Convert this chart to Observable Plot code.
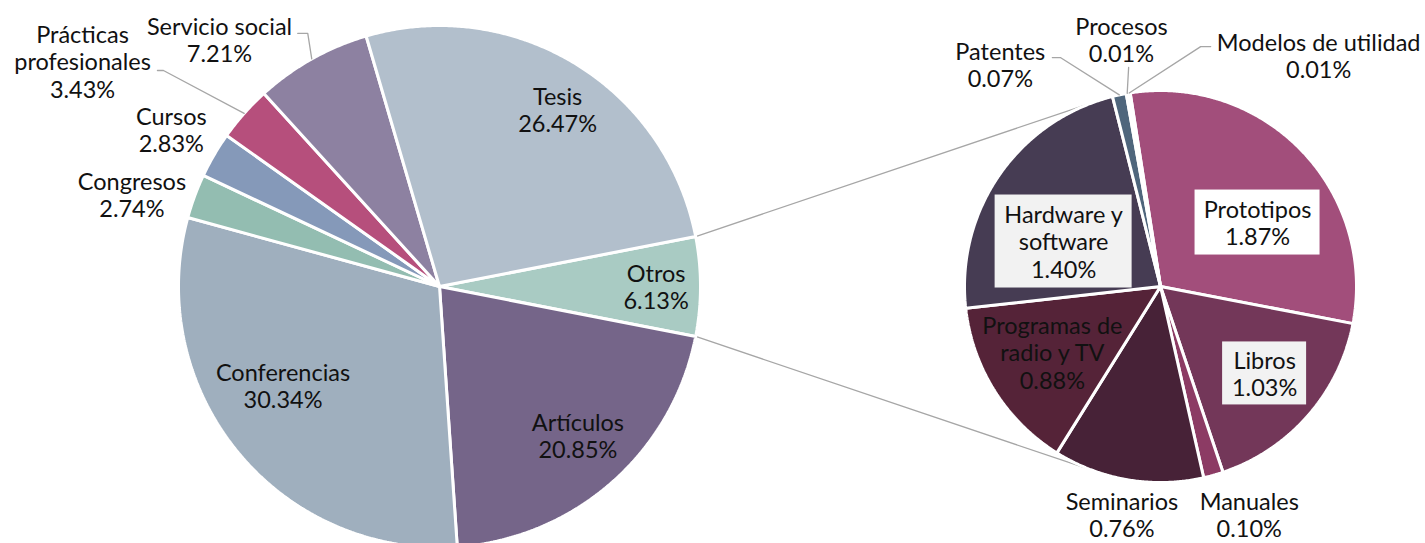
<!DOCTYPE html>
<html><head><meta charset="utf-8">
<script src="https://cdn.jsdelivr.net/npm/d3@7"></script>
<script src="https://cdn.jsdelivr.net/npm/@observablehq/plot@0.6"></script>
<style>body{margin:0;background:#fff} #chart{width:1425px;height:543px}</style>
</head><body><div id="chart"></div>
<script>
// ---------- DATA ----------
const mainCategories = ["Otros", "Artículos", "Conferencias", "Congresos", "Cursos", "Prácticas profesionales", "Servicio social", "Tesis"];
const mainLabels = ["Otros", "Artículos", "Conferencias", "Congresos", "Cursos", "Prácticas\nprofesionales", "Servicio social", "Tesis"];
const mainValues = [6.13, 20.85, 30.34, 2.74, 2.83, 3.43, 7.21, 26.47];

const subCategories = ["Prototipos", "Libros", "Manuales", "Seminarios", "Programas de radio y TV", "Hardware y software", "Patentes", "Procesos", "Modelos de utilidad"];
const subLabels = ["Prototipos", "Libros", "Manuales", "Seminarios", "Programas de\nradio y TV", "Hardware y\nsoftware", "Patentes", "Procesos", "Modelos de utilidad"];
const subValues = [1.87, 1.03, 0.10, 0.76, 0.88, 1.40, 0.07, 0.01, 0.01];

// ---------- STYLE ----------
const mainColors = ["#a9cbc3", "#756589", "#9fafbe", "#93bdb1", "#8599b9", "#b64f7c", "#8d81a1", "#b2bfcc"];
const subColors = ["#a24e7b", "#733759", "#8c3b64", "#472237", "#552338", "#463c53", "#4f667c", "#7d8fa2", "#9aa8b6"];

// ---------- LAYOUT ----------
const W = 1425, H = 543;
const K = 261;                       // pixels per data unit (main pie radius)
const OX = 439, OY = 286;            // main pie centre in pixels
const xDomain = [-OX / K, (W - OX) / K];
const yDomain = [-(H - OY) / K, OY / K];
const deg = Math.PI / 180;

const mainPie = {cx: 0, cy: 0, r: 1};
const subPie = {cx: (1160 - OX) / K, cy: 0, r: 196 / K, start: -8.9 * deg};

// label placement: [angle offset from slice mid (deg), radius factor]
const mainLabelLayout = {
  "Otros": [0, 0.83], "Artículos": [-1.4, 0.78], "Conferencias": [6.9, 0.71],
  "Congresos": [-3.6, 1.23], "Cursos": [0, 1.19], "Prácticas profesionales": [-9.3, 1.617],
  "Servicio social": [-12.4, 1.267], "Tesis": [2.4, 0.815]
};
const subLabelLayout = {
  "Prototipos": [10.6, 0.593], "Libros": [-1.3, 0.692], "Manuales": [-5.6, 1.249],
  "Seminarios": [0, 1.18], "Programas de radio y TV": [0.9, 0.646], "Hardware y software": [-9.8, 0.545],
  "Patentes": [-23.7, 1.396], "Procesos": [0.8, 1.276], "Modelos de utilidad": [43.6, 1.428]
};
// leader: [elbow angle offset (deg), elbow radius factor, horizontal tail px]
const mainLeaders = {"Prácticas profesionales": [-3.5, 1.343, -6], "Servicio social": [1.8, 1.093, -10]};
const subLeaders = {"Patentes": [-11.5, 1.275, -8], "Procesos": [1.5, 1.129, 0], "Modelos de utilidad": [18.7, 1.241, 10]};
// label boxes: [width px, height px, fill]
const subBoxes = {"Prototipos": [125, 65, "#ffffff"], "Libros": [84, 63, "#f2f2f2"], "Hardware y software": [137, 93, "#f2f2f2"]};

// ---------- GEOMETRY ----------
function pt(p, a, f) { return {x: p.cx + p.r * f * Math.sin(a), y: p.cy + p.r * f * Math.cos(a)}; }

function arcs(cats, vals, start) {
  return d3.pie().sort(null).value((d, i) => vals[i]).startAngle(start).endAngle(start + 2 * Math.PI)(cats)
    .map((a, i) => ({name: cats[i], value: vals[i], a0: a.startAngle, a1: a.endAngle, mid: (a.startAngle + a.endAngle) / 2}));
}

const mainTotal = d3.sum(mainValues);
const mainStart = Math.PI / 2 - (mainValues[0] / mainTotal) * Math.PI; // "Otros" centred at 3 o'clock
const mainArcs = arcs(mainCategories, mainValues, mainStart);
const subArcs = arcs(subCategories, subValues, subPie.start);

function polygons(arcList, p) {
  const out = [];
  for (const s of arcList) {
    const n = Math.max(2, Math.ceil((s.a1 - s.a0) / (0.4 * deg)));
    out.push({name: s.name, x: p.cx, y: p.cy});
    for (let j = 0; j <= n; j++) {
      const q = pt(p, s.a0 + (s.a1 - s.a0) * j / n, 1);
      out.push({name: s.name, ...q});
    }
    out.push({name: s.name, x: p.cx, y: p.cy});
  }
  return out;
}
const slices = [...polygons(mainArcs, mainPie), ...polygons(subArcs, subPie)];

function labelsFor(arcList, p, layout, labelTexts) {
  return arcList.map((s, i) => {
    const [da, f] = layout[s.name];
    const q = pt(p, s.mid + da * deg, f);
    return {name: s.name, x: q.x, y: q.y, text: labelTexts[i] + "\n" + s.value.toFixed(2) + "%"};
  });
}
const labels = [...labelsFor(mainArcs, mainPie, mainLabelLayout, mainLabels),
                ...labelsFor(subArcs, subPie, subLabelLayout, subLabels)];

function leadersFor(arcList, p, leaders) {
  const out = [];
  for (const s of arcList) {
    const L = leaders[s.name];
    if (!L) continue;
    const a = pt(p, s.mid, 1);
    const b = pt(p, s.mid + L[0] * deg, L[1]);
    out.push({name: s.name, ...a}, {name: s.name, ...b});
    if (L[2]) out.push({name: s.name, x: b.x + L[2] / K, y: b.y});
  }
  return out;
}
const leaderPts = [...leadersFor(mainArcs, mainPie, mainLeaders), ...leadersFor(subArcs, subPie, subLeaders)];

// connector lines: tangents from the "Otros" slice edges to the sub pie
function tangent(P, p, upper) {
  const dx = p.cx - P.x, dy = p.cy - P.y, d = Math.hypot(dx, dy);
  const th = Math.atan2(dy, dx), al = Math.asin(p.r / d), t = Math.sqrt(d * d - p.r * p.r);
  const ang = upper ? th + al : th - al;
  return {x: P.x + t * Math.cos(ang), y: P.y + t * Math.sin(ang)};
}
const otros = mainArcs[0];
const pTop = pt(mainPie, otros.a0, 1), pBot = pt(mainPie, otros.a1, 1);
const connectors = [
  {id: "top", ...pTop}, {id: "top", ...tangent(pTop, subPie, true)},
  {id: "bot", ...pBot}, {id: "bot", ...tangent(pBot, subPie, false)}
];

const boxMarks = labels.filter(l => subBoxes[l.name]).map(l => {
  const [w, h, fill] = subBoxes[l.name];
  return Plot.rect([l], {x1: d => d.x - w / 2 / K, x2: d => d.x + w / 2 / K, y1: d => d.y - h / 2 / K, y2: d => d.y + h / 2 / K, fill});
});

const FONT = "Lato, 'Noto Sans', sans-serif";

const chart = Plot.plot({
  width: W, height: H,
  margin: 0,
  x: {domain: xDomain, axis: null},
  y: {domain: yDomain, axis: null},
  color: {type: "ordinal", domain: [...mainCategories, ...subCategories], range: [...mainColors, ...subColors]},
  marks: [
    Plot.line(connectors, {x: "x", y: "y", z: "id", stroke: "#a6a6a6", strokeWidth: 1.3}),
    Plot.line(slices, {x: "x", y: "y", z: "name", fill: "name", stroke: "#ffffff", strokeWidth: 3, strokeLinejoin: "miter", curve: "linear"}),
    Plot.line(leaderPts, {x: "x", y: "y", z: "name", stroke: "#a6a6a6", strokeWidth: 1.3, strokeLinejoin: "miter"}),
    ...boxMarks,
    Plot.text(labels, {x: "x", y: "y", text: "text", fontSize: 23.5, lineHeight: 1.17, fontFamily: FONT, fill: "#111111"})
  ]
});
document.getElementById("chart").appendChild(chart);
</script>
</body></html>
